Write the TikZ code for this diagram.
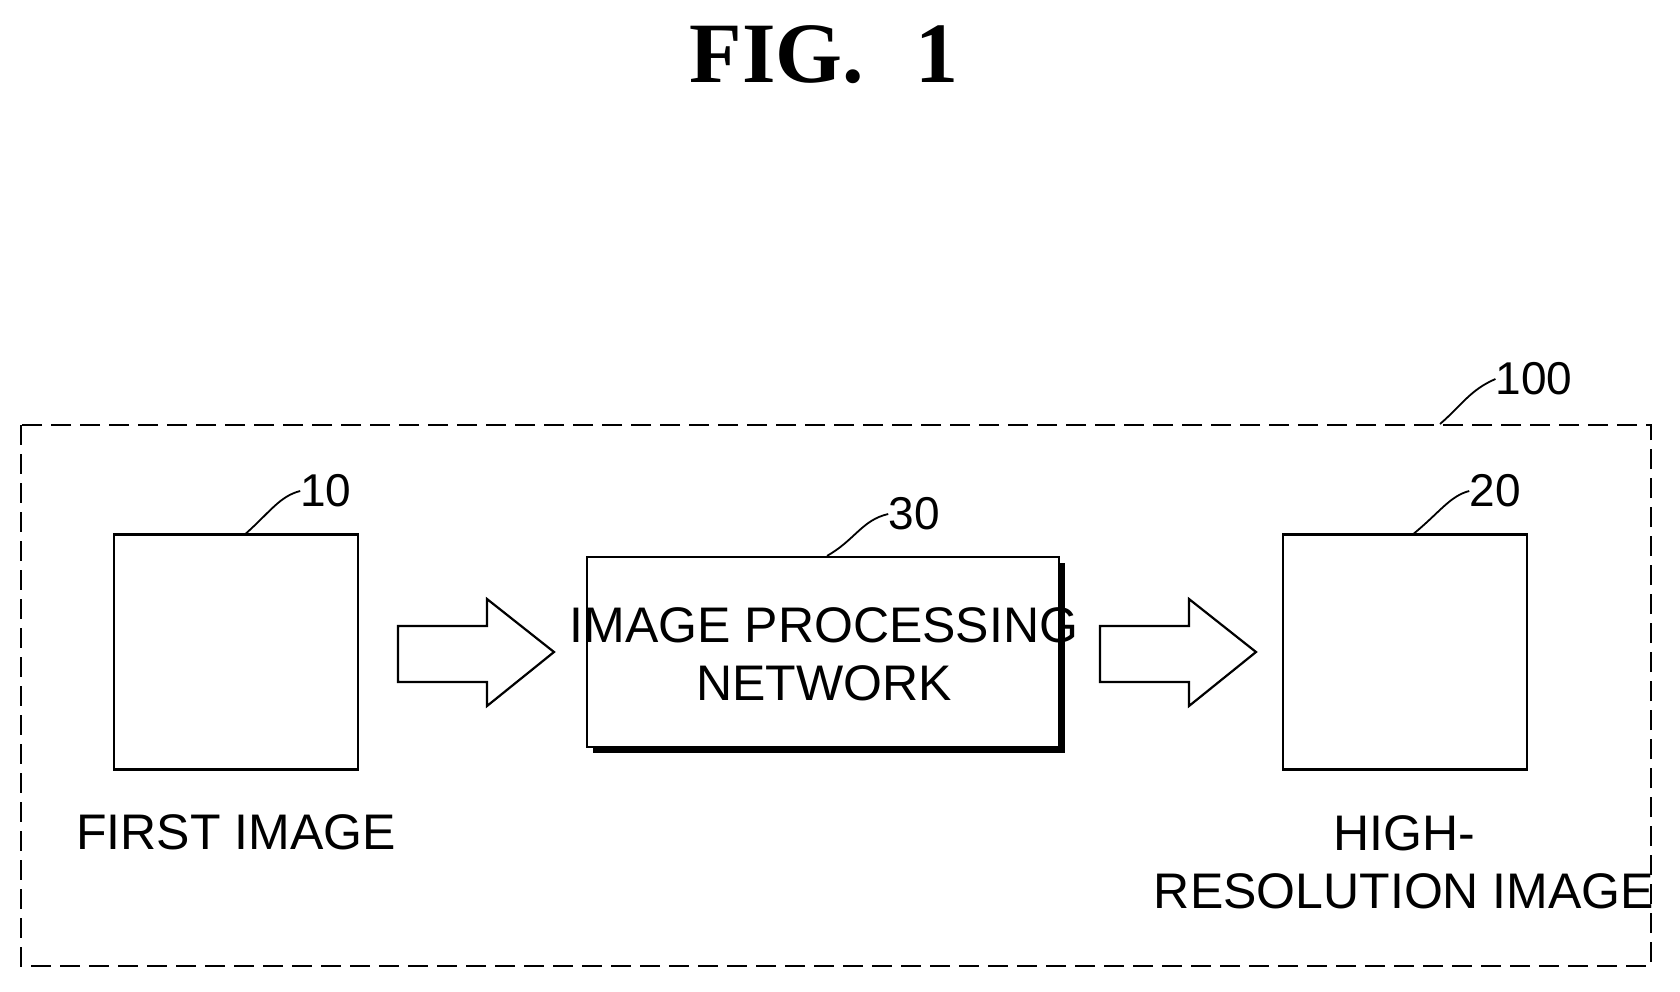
\documentclass[tikz,border=0pt]{standalone}
\usepackage{fontspec}
\setmainfont{Liberation Sans}
\newfontfamily\titlefont{Liberation Serif}
\usetikzlibrary{positioning}

\tikzset{
  blk/.style = {draw, line width=2.2pt, minimum width=244pt, minimum height=235pt, inner sep=0pt},
  lbl/.style = {font=\fontsize{50}{58}\selectfont, align=center, inner sep=0pt},
  num/.style = {font=\fontsize{46}{52}\selectfont, inner sep=0pt},
  lead/.style = {line width=1.8pt},
  bigarrow/.style = {draw, line width=2.2pt, fill=white}
}

\begin{document}
\begin{tikzpicture}[x=1pt, y=-1pt]
\useasboundingbox (0,0) rectangle (1680,991);

\node[font=\titlefont\bfseries\fontsize{86}{90}\selectfont] (title) at (824,55) {FIG.\hspace{0.6em}1};

\draw[line width=2pt, dash pattern=on 20pt off 9pt] (21,425) rectangle (1651,966);
\node[num] (n100) at (1534,379) {100};
\coordinate (c100) at (1440,424);
\draw[lead] (c100) .. controls (1462,405) and (1470,390) .. (n100.west);

% first image
\node[blk] (first) at (236,652) {};
\node[lbl] (firstlbl) at (236,832) {FIRST IMAGE};
\node[num] (n10) at (326,491) {10};
\draw[lead] (first.north) ++(10,0) coordinate (c10) .. controls (270,512) and (280,496) .. (n10.west);

% network
\fill (593,563) rectangle (1065,753);
\node[draw, line width=2.2pt, fill=white, minimum width=472pt, minimum height=190pt, inner sep=0pt] (net) at (823,652) {};
\node[lbl] (netlbl) at (824,654) {IMAGE PROCESSING\\NETWORK};
\node[num] (n30) at (914,514) {30};
\draw[lead] (net.north) ++(4,0) coordinate (c30) .. controls (855,540) and (862,520) .. (n30.west);

% high-resolution image
\node[blk] (high) at (1405,652) {};
\node[lbl] (highlbl) at (1404,862) {HIGH-\\RESOLUTION IMAGE};
\node[num] (n20) at (1495,491) {20};
\draw[lead] (high.north) ++(9,0) coordinate (c20) .. controls (1440,512) and (1450,496) .. (n20.west);

% arrows
\foreach \x in {398,1100} {
  \draw[bigarrow] (\x,626) -- (\x+89,626) -- (\x+89,599) -- (\x+156,652)
    -- (\x+89,706) -- (\x+89,682) -- (\x,682) -- cycle;
}
\end{tikzpicture}
\end{document}
